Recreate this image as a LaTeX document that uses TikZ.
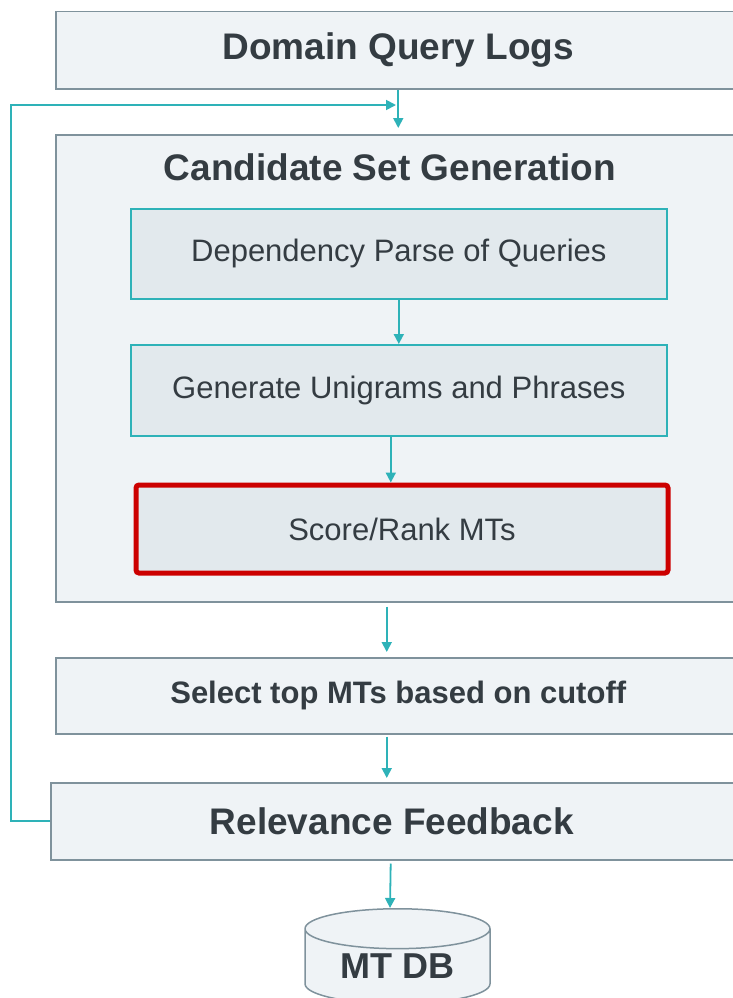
\documentclass[tikz,border=0pt]{standalone}
\usepackage{fontspec}
\setmainfont{Liberation Sans}
\usetikzlibrary{shapes.geometric,arrows.meta,positioning}
\definecolor{boxfill}{HTML}{EFF3F6}
\definecolor{innerfill}{HTML}{E2E9ED}
\definecolor{boxline}{HTML}{7F929C}
\definecolor{flowteal}{HTML}{2EB2B8}
\definecolor{rankred}{HTML}{CC0000}
\definecolor{textdark}{HTML}{343C42}

\begin{document}
\begin{tikzpicture}[x=1pt,y=-1pt,->,>={Triangle[length=10pt,width=10pt]},
  flow/.style={draw=flowteal,line width=1.8pt},
  outer node/.style={draw=boxline,line width=1.5pt,fill=boxfill,anchor=north west,inner sep=0pt,text=textdark,font=\bfseries\fontsize{37}{40}\selectfont},
  inner node/.style={draw=flowteal,line width=1.6pt,fill=innerfill,anchor=north west,inner sep=0pt,text=textdark,font=\fontsize{31}{34}\selectfont},
  db node/.style={cylinder,shape border rotate=90,aspect=0.35,draw=boxline,line width=1.5pt,fill=boxfill,inner sep=0pt,text=textdark,font=\bfseries\fontsize{36}{40}\selectfont}]
  \useasboundingbox (0,0) rectangle (733,998);

  \node[outer node,minimum width=685pt,minimum height=77pt] (dql) at (55,11) {Domain Query Logs};
  \node[outer node,minimum width=685pt,minimum height=467pt] (cand) at (55,134) {};
  \node[text=textdark,font=\bfseries\fontsize{37}{40}\selectfont] (candtitle) at (390,167) {Candidate Set Generation};
  \node[inner node,minimum width=536pt,minimum height=90pt] (dep) at (130,208) {Dependency Parse of Queries};
  \node[inner node,minimum width=536pt,minimum height=91pt] (gen) at (130,344) {Generate Unigrams and Phrases};
  \node[inner node,draw=rankred,line width=5pt,rounded corners=3pt,minimum width=532pt,minimum height=88pt] (score) at (133.5,482.5) {Score/Rank MTs};
  \node[outer node,minimum width=685pt,minimum height=76pt,font=\bfseries\fontsize{31}{34}\selectfont] (select) at (55,657) {Select top MTs based on cutoff};
  \node[outer node,minimum width=690pt,minimum height=77pt] (rf) at (50,782) {\hspace*{-8pt}Relevance Feedback};
  \node[db node,anchor=north,minimum width=185pt,minimum height=95pt] (db) at (397.5,908) {MT DB};

  \coordinate (fbin) at (396,105);
  \coordinate (dbtop) at (390,908);

  \path[every edge/.append style={flow}]
    (dql) edge[shorten >=6pt] (cand)
    (dep) edge (gen)
    ([xshift=-8pt]gen.south) edge ([xshift=-8pt]gen.south |- score.north)
    ([xshift=-11.5pt]cand.south) edge[shorten <=4pt,shorten >=5pt] ([xshift=-11.5pt]cand.south |- select.north)
    ([xshift=-11.5pt]select.south) edge[shorten <=2pt,shorten >=4pt] ([xshift=-11.5pt]select.south |- rf.north)
    ([xshift=-5pt]rf.south) edge[shorten <=3pt] (dbtop)
  ;
  \draw[flow] (rf.west) -- ++(-39,0) |- (fbin);
\end{tikzpicture}
\end{document}
